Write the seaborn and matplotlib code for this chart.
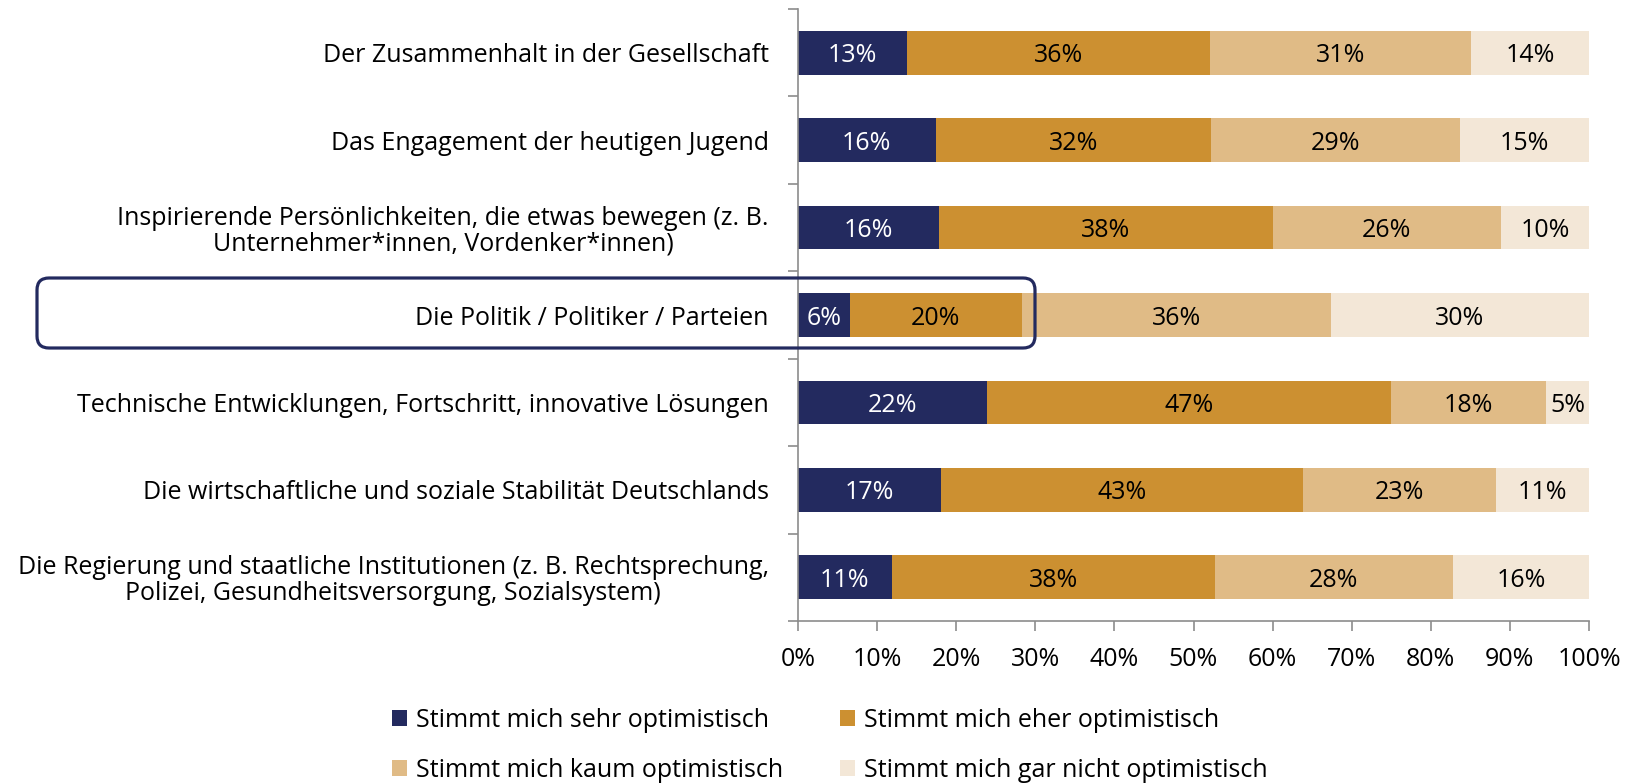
import numpy as np
import pandas as pd
import matplotlib
matplotlib.use("Agg")
import matplotlib.pyplot as plt
import seaborn as sns
from matplotlib.patches import FancyBboxPatch, Patch
from matplotlib.transforms import IdentityTransform

categories = [
    "Der Zusammenhalt in der Gesellschaft",
    "Das Engagement der heutigen Jugend",
    "Inspirierende Persönlichkeiten, die etwas bewegen (z. B.\nUnternehmer*innen, Vordenker*innen)",
    "Die Politik / Politiker / Parteien",
    "Technische Entwicklungen, Fortschritt, innovative Lösungen",
    "Die wirtschaftliche und soziale Stabilität Deutschlands",
    "Die Regierung und staatliche Institutionen (z. B. Rechtsprechung,\nPolizei, Gesundheitsversorgung, Sozialsystem)",
]
series_names = [
    "Stimmt mich sehr optimistisch",
    "Stimmt mich eher optimistisch",
    "Stimmt mich kaum optimistisch",
    "Stimmt mich gar nicht optimistisch",
]
sehr = [13, 16, 16, 6, 22, 17, 11]
eher = [36, 32, 38, 20, 47, 43, 38]
kaum = [31, 29, 26, 36, 18, 23, 28]
gar_nicht = [14, 15, 10, 30, 5, 11, 16]
x_ticks = [0, 10, 20, 30, 40, 50, 60, 70, 80, 90, 100]

colors = ["#232A5F", "#CC9031", "#E0BB86", "#F3E7D7"]
text_colors = ["white", "black", "black", "black"]
axis_gray = "#8C8C8C"
FS = 18

sns.set_theme(style="white")
plt.rcParams["font.family"] = ["Open Sans", "DejaVu Sans"]
plt.rcParams["text.color"] = "black"
plt.rcParams["xtick.color"] = "black"
plt.rcParams["ytick.color"] = "black"

W, H = 1625, 783
fig = plt.figure(figsize=(W / 100, H / 100), dpi=100)
ax = fig.add_axes([798 / W, 1 - 621 / H, (1589 - 798) / W, (621 - 9) / H])

vals = np.array([sehr, eher, kaum, gar_nicht], dtype=float)
shares = vals / vals.sum(axis=0) * 100
cum = shares.cumsum(axis=0)

for i in reversed(range(4)):
    df = pd.DataFrame({"cat": categories, "val": cum[i]})
    sns.barplot(data=df, x="val", y="cat", orient="h", color=colors[i],
                saturation=1, width=0.5, linewidth=0, ax=ax, errorbar=None)

for i in range(4):
    for j in range(len(categories)):
        left = cum[i][j] - shares[i][j]
        ax.text(left + shares[i][j] / 2, j, f"{vals[i][j]:.0f}%", ha="center",
                va="center_baseline", color=text_colors[i], fontsize=FS)

ax.set_xlim(0, 100)
ax.set_ylim(len(categories) - 0.5, -0.5)
ax.set_xlabel("")
ax.set_ylabel("")
ax.set_xticks(x_ticks)
ax.set_xticklabels([f"{t}%" for t in x_ticks], fontsize=FS)
ax.set_yticks(range(len(categories)))
ax.set_yticklabels(categories, fontsize=FS)
for lbl in ax.get_yticklabels():
    lbl.set_multialignment("center")
    lbl.set_linespacing(1.05)
ax.set_yticks(np.arange(-0.5, len(categories), 1.0), minor=True)

for s in ["top", "right"]:
    ax.spines[s].set_visible(False)
for s in ["left", "bottom"]:
    ax.spines[s].set_color(axis_gray)
    ax.spines[s].set_linewidth(1.2)

ax.tick_params(axis="x", which="major", bottom=True, direction="out", length=7,
               width=1.2, color=axis_gray, pad=12, labelcolor="black")
ax.tick_params(axis="y", which="major", left=True, length=0, pad=21, labelcolor="black")
ax.tick_params(axis="y", which="minor", left=True, direction="out", length=7,
               width=1.2, color=axis_gray)
ax.grid(False)

box = FancyBboxPatch((37, H - 348), 998, 70,
                     boxstyle="round,pad=0,rounding_size=12",
                     transform=IdentityTransform(), fill=False,
                     edgecolor="#232A5F", linewidth=2.3, clip_on=False)
fig.add_artist(box)

order = [0, 2, 1, 3]
handles = [Patch(facecolor=colors[k], edgecolor="none", label=series_names[k]) for k in order]
fig.legend(handles=handles, ncol=2, loc="upper left",
           bbox_to_anchor=(392 / W, 1 - 708 / H), frameon=False, fontsize=FS,
           labelcolor="black",
           handlelength=0.6, handleheight=0.6, handletextpad=0.35,
           columnspacing=2.3, labelspacing=1.0, borderpad=0, borderaxespad=0)

fig.savefig("out.png", dpi=100)
